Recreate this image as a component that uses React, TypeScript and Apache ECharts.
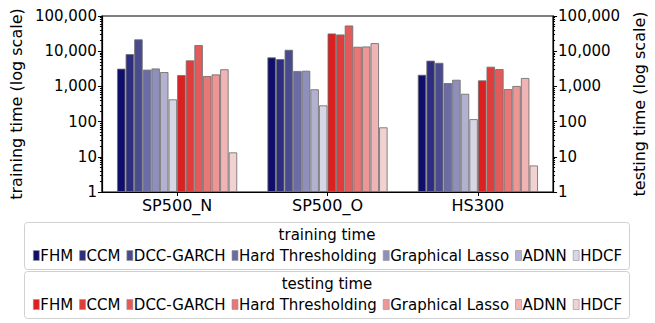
import React, { useEffect, useRef } from "react";
import * as echarts from "echarts";

const categories = ["SP500_N", "SP500_O", "HS300"];
const methods = ["FHM", "CCM", "DCC-GARCH", "Hard Thresholding", "Graphical Lasso", "ADNN", "HDCF"];

// training time per method: [SP500_N, SP500_O, HS300]
const trainFHM = [3200, 6700, 2150];
const trainCCM = [8300, 6000, 5400];
const trainDCC = [21800, 11000, 4700];
const trainHT = [3000, 2750, 1250];
const trainGL = [3250, 2800, 1550];
const trainADNN = [2560, 830, 620];
const trainHDCF = [430, 290, 118];

// testing time per method: [SP500_N, SP500_O, HS300]
const testFHM = [2100, 32000, 1490];
const testCCM = [5500, 30000, 3640];
const testDCC = [15000, 54000, 3120];
const testHT = [1980, 13400, 840];
const testGL = [2200, 13700, 1030];
const testADNN = [3080, 17000, 1740];
const testHDCF = [13.4, 69, 5.7];

const trainColors = ["#0f0f6b", "#2e2e80", "#4a4a8f", "#6b6ba6", "#8f8fbb", "#b2b2d0", "#d6d6e4"];
const testColors = ["#dc2020", "#e03c3c", "#e35a5a", "#e87878", "#ec9696", "#f0b4b4", "#f0d2d2"];

const trainData = [trainFHM, trainCCM, trainDCC, trainHT, trainGL, trainADNN, trainHDCF];
const testData = [testFHM, testCCM, testDCC, testHT, testGL, testADNN, testHDCF];

const FONT = "DejaVu Sans";

export default function App() {
  const ref = useRef<HTMLDivElement>(null);
  useEffect(() => {
    if (!ref.current) return;
    const chart = echarts.init(ref.current, undefined, { renderer: "svg" });
    const fmt = (v: number) => Math.round(v).toLocaleString("en-US");
    const yAxisCommon = {
      type: "log" as const,
      logBase: 10,
      min: 1,
      max: 100000,
      splitLine: { show: false },
      axisLine: { show: true, lineStyle: { color: "#000", width: 1.2 } },
      axisTick: { show: true, inside: false, length: 4, lineStyle: { color: "#000" } },
      minorTick: { show: true, splitNumber: 9, length: 2, lineStyle: { color: "#000" } },
      axisLabel: { formatter: fmt, color: "#000", fontFamily: FONT, fontSize: 15, margin: 5 },
      nameLocation: "middle" as const,
      nameTextStyle: { color: "#000", fontFamily: FONT, fontSize: 16 },
    };
    const series: any[] = [];
    methods.forEach((m, i) => {
      series.push({
        name: m,
        type: "bar",
        yAxisIndex: 0,
        data: trainData[i],
        barGap: "0%",
        barCategoryGap: "20%",
        itemStyle: { color: trainColors[i], borderColor: "rgba(110,110,110,0.85)", borderWidth: 1 },
      });
    });
    methods.forEach((m, i) => {
      series.push({
        name: m + " ",
        type: "bar",
        yAxisIndex: 1,
        data: testData[i],
        barGap: "0%",
        barCategoryGap: "20%",
        itemStyle: { color: testColors[i], borderColor: "rgba(110,110,110,0.85)", borderWidth: 1 },
      });
    });
    const legendCommon = {
      left: "center",
      orient: "horizontal" as const,
      padding: 0,
      itemWidth: 6,
      itemHeight: 10,
      itemGap: 6,
      icon: "rect",
      itemStyle: { borderColor: "rgba(150,150,150,0.8)", borderWidth: 0.8 },
      textStyle: { color: "#000", fontFamily: FONT, fontSize: 15, padding: [0, 0, 0, -4] },
      selectedMode: false,
    };
    chart.setOption({
      animation: false,
      backgroundColor: "#fff",
      grid: {
        left: 100,
        right: 96,
        top: 16,
        bottom: 131,
        show: true,
        borderColor: "#000",
        borderWidth: 1.2,
        backgroundColor: "transparent",
      },
      xAxis: {
        type: "category",
        data: categories,
        axisLine: { show: true, lineStyle: { color: "#000", width: 1.2 } },
        axisTick: { show: true, alignWithLabel: true, length: 4, lineStyle: { color: "#000" } },
        axisLabel: { color: "#000", fontFamily: FONT, fontSize: 16, margin: 5 },
      },
      yAxis: [
        { ...yAxisCommon, position: "left", name: "training time (log scale)", nameGap: 76 },
        { ...yAxisCommon, position: "right", name: "testing time (log scale)", nameGap: 69 },
      ],
      legend: [
        { ...legendCommon, top: 248, data: methods },
        { ...legendCommon, top: 297, data: methods.map((m) => m + " "), formatter: (n: string) => n.trim() },
      ],
      graphic: [
        {
          type: "rect",
          shape: { x: 24.5, y: 222.5, width: 605, height: 47, r: 3 },
          style: { fill: "#fff", stroke: "#d0d0d0", lineWidth: 1 },
          z: -1,
        },
        {
          type: "rect",
          shape: { x: 24.5, y: 271.5, width: 605, height: 47, r: 3 },
          style: { fill: "#fff", stroke: "#d0d0d0", lineWidth: 1 },
          z: -1,
        },
        {
          type: "text",
          x: 327,
          y: 235,
          style: { text: "training time", fill: "#000", font: `15px "${FONT}"`, textAlign: "center", textVerticalAlign: "middle" },
        },
        {
          type: "text",
          x: 327,
          y: 284,
          style: { text: "testing time", fill: "#000", font: `15px "${FONT}"`, textAlign: "center", textVerticalAlign: "middle" },
        },
      ],
      series,
    });
    return () => chart.dispose();
  }, []);
  return <div ref={ref} style={{ position: "fixed", left: 0, top: 0, width: 655, height: 323 }} />;
}
